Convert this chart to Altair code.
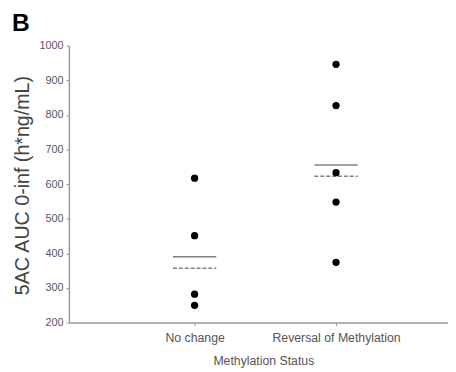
import altair as alt
import pandas as pd

categories = ["No change", "Reversal of Methylation"]
no_change_values = [617, 451, 282, 250]
reversal_values = [946, 827, 633, 548, 374]
solid_line_values = [390, 655]
dashed_line_values = [357, 623]
y_ticks = [200, 300, 400, 500, 600, 700, 800, 900, 1000]

rows = []
for v in no_change_values:
    rows.append({"pos": 1, "status": categories[0], "auc": v})
for v in reversal_values:
    rows.append({"pos": 2, "status": categories[1], "auc": v})
pts = pd.DataFrame(rows)
lines = pd.DataFrame({
    "pos": [1, 2],
    "status": categories,
    "solid": solid_line_values,
    "dashed": dashed_line_values,
})

label_expr = "datum.value == 1 ? '%s' : datum.value == 2 ? '%s' : ''" % (categories[0], categories[1])

xscale = alt.Scale(domain=[0.1111, 2.7917], nice=False, zero=False)
yscale = alt.Scale(domain=[200, 1000], nice=False, zero=False)

x_axis = alt.Axis(
    title="Methylation Status", values=[1, 2], labelExpr=label_expr,
    grid=False, domainColor="#999999", tickColor="#999999", tickSize=3,
    labelColor="#555555", labelFontSize=12.5, labelFont="Liberation Sans",
    labelPadding=6, titleColor="#555555", titleFontSize=12.5,
    titleFont="Liberation Sans", titleFontWeight="normal", titlePadding=11,
    titleX=198,
    domainWidth=1.5, labelOverlap=False)
y_axis = alt.Axis(
    title="5AC AUC 0-inf (h*ng/mL)", values=y_ticks, format="d", grid=False,
    labelOverlap=False, tickCount=9,
    domainColor="#999999", tickColor="#999999", tickSize=3,
    labelColor="#555555", labelFontSize=11, labelFont="Liberation Sans",
    labelPadding=3, titleColor="#444444", titleFontSize=20,
    titleFont="Liberation Sans", titleFontWeight="normal",
    titleX=-47, titleY=142, titleAngle=-90, titleAlign="center",
    titleBaseline="middle", domainWidth=1.5)

half = 0.153

points = alt.Chart(pts).mark_circle(color="black", opacity=1, size=55).encode(
    x=alt.X("pos:Q", scale=xscale, axis=x_axis),
    y=alt.Y("auc:Q", scale=yscale, axis=y_axis),
)
base_lines = alt.Chart(lines).transform_calculate(
    lo="datum.pos - %f" % half, hi="datum.pos + %f" % half)
solid = base_lines.mark_rule(strokeWidth=1.5, color="#808080").encode(
    x=alt.X("lo:Q", scale=xscale, axis=x_axis),
    x2="hi:Q",
    y=alt.Y("solid:Q", scale=yscale, axis=y_axis),
)
dashed = base_lines.mark_rule(strokeWidth=1.5, color="#808080",
                              strokeDash=[4, 2]).encode(
    x=alt.X("lo:Q", scale=xscale, axis=x_axis),
    x2="hi:Q",
    y=alt.Y("dashed:Q", scale=yscale, axis=y_axis),
)

chart = alt.layer(solid, dashed, points).properties(
    width=386, height=282,
    autosize=alt.AutoSizeParams(type="none"),
    padding={"left": 62, "top": 35, "right": 0, "bottom": 47},
    title=alt.Title("B", anchor="start", fontSize=25, font="Liberation Sans",
                    fontWeight="bold", color="black", dx=-1, offset=4),
).configure_view(stroke=None)

chart.save("out.html", embed_options={"renderer": "svg", "actions": False})
